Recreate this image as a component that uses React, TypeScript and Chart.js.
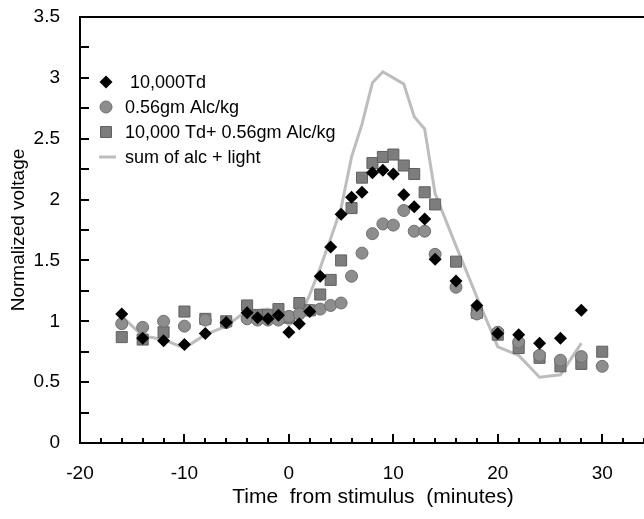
import React, { useEffect, useRef } from 'react';
import { Chart, registerables } from 'chart.js';

Chart.register(...registerables);

const FONT = '"Liberation Sans", Arial, Helvetica, sans-serif';

// Time from stimulus (minutes)
const times = [-16, -14, -12, -10, -8, -6, -4, -3, -2, -1, 0, 1, 2, 3, 4, 5, 6, 7, 8, 9, 10, 11, 12, 13, 14, 16, 18, 20, 22, 24, 26, 28, 30];

// 10,000Td (light)
const lightValues = [1.06, 0.86, 0.84, 0.81, 0.90, 0.99, 1.07, 1.03, 1.02, 1.05, 0.91, 0.98, 1.08, 1.37, 1.61, 1.88, 2.02, 2.06, 2.22, 2.24, 2.21, 2.04, 1.94, 1.84, 1.51, 1.33, 1.13, 0.90, 0.89, 0.82, 0.86, 1.09, null];

// 0.56gm Alc/kg
const alcValues = [0.98, 0.95, 1.00, 0.96, 1.01, 0.99, 1.02, 1.01, 1.01, 1.01, 1.04, 1.06, 1.09, 1.10, 1.13, 1.15, 1.37, 1.56, 1.72, 1.80, 1.79, 1.91, 1.74, 1.74, 1.55, 1.28, 1.06, 0.91, 0.83, 0.72, 0.68, 0.71, 0.63];

// 10,000 Td+ 0.56gm Alc/kg
const bothValues = [0.87, 0.85, 0.91, 1.08, 1.02, 1.00, 1.13, 1.05, 1.05, 1.10, 1.03, 1.15, 1.09, 1.22, 1.34, 1.50, 1.93, 2.18, 2.30, 2.35, 2.37, 2.28, 2.21, 2.06, 1.96, 1.49, 1.07, 0.89, 0.78, 0.70, 0.63, 0.65, 0.75];

// sum of alc + light
const sumValues = [1.04, 0.88, 0.85, 0.78, 0.89, 0.96, 1.09, 1.09, 1.10, 1.07, 0.97, 1.03, 1.22, 1.44, 1.68, 1.93, 2.35, 2.62, 2.96, 3.05, 3.00, 2.95, 2.68, 2.58, 2.05, 1.62, 1.20, 0.79, 0.72, 0.54, 0.56, 0.82, null];

const legendLabels = [' 10,000Td', '0.56gm Alc/kg', '10,000 Td+ 0.56gm Alc/kg', 'sum of alc + light'];

const xTitle = 'Time  from stimulus  (minutes)';
const yTitle = 'Normalized voltage';

const X_MIN = -20;
const X_MAX = 34;
const Y_MIN = 0;
const Y_MAX = 3.5;

const CIRCLE_FILL = '#8d8d8d';
const CIRCLE_EDGE = '#6f6f6f';
const SQUARE_FILL = '#7d7d7d';
const SQUARE_EDGE = '#606060';
const LINE_COLOR = '#bdbdbd';

function toPoints(values: (number | null)[]) {
  const pts: { x: number; y: number }[] = [];
  values.forEach((v, i) => {
    if (v !== null && v !== undefined) pts.push({ x: times[i], y: v });
  });
  return pts;
}

const framePlugin = {
  id: 'frameAndTicks',
  afterDraw(chart: any) {
    const { ctx, chartArea, scales } = chart;
    const xs = scales.x;
    const ys = scales.y;
    const left = chartArea.left;
    const right = chartArea.right;
    const top = chartArea.top;
    const bottom = chartArea.bottom;
    ctx.save();
    ctx.strokeStyle = '#000';
    ctx.lineWidth = 2;
    ctx.beginPath();
    ctx.moveTo(right + 2, top);
    ctx.lineTo(left, top);
    ctx.lineTo(left, bottom);
    ctx.lineTo(right + 2, bottom);
    ctx.stroke();
    for (let v = Y_MIN; v <= Y_MAX + 1e-9; v += 0.25) {
      const py = Math.round(ys.getPixelForValue(v));
      ctx.beginPath();
      ctx.moveTo(left, py);
      ctx.lineTo(left + 9, py);
      ctx.stroke();
    }
    for (let v = X_MIN; v <= X_MAX + 1e-9; v += 2) {
      const px = Math.round(xs.getPixelForValue(v));
      const len = Math.abs(v % 10) < 1e-9 ? 9 : 5;
      ctx.beginPath();
      ctx.moveTo(px, bottom);
      ctx.lineTo(px, bottom - len);
      ctx.stroke();
    }
    ctx.fillStyle = '#000';
    ctx.font = `21px ${FONT}`;
    ctx.textAlign = 'center';
    ctx.textBaseline = 'middle';
    ctx.fillText(xTitle, 373, 497);
    ctx.restore();
  },
};

const legendPlugin = {
  id: 'innerLegend',
  afterDraw(chart: any) {
    const { ctx } = chart;
    const mx = 106;
    const tx = 125;
    const rows = [82, 107, 132, 157];
    ctx.save();
    ctx.fillStyle = '#000';
    ctx.beginPath();
    ctx.moveTo(mx, rows[0] - 6.5);
    ctx.lineTo(mx + 6.5, rows[0]);
    ctx.lineTo(mx, rows[0] + 6.5);
    ctx.lineTo(mx - 6.5, rows[0]);
    ctx.closePath();
    ctx.fill();
    ctx.fillStyle = CIRCLE_FILL;
    ctx.strokeStyle = CIRCLE_EDGE;
    ctx.lineWidth = 1;
    ctx.beginPath();
    ctx.arc(mx, rows[1], 6, 0, Math.PI * 2);
    ctx.fill();
    ctx.stroke();
    ctx.fillStyle = SQUARE_FILL;
    ctx.strokeStyle = SQUARE_EDGE;
    ctx.beginPath();
    ctx.rect(mx - 5.5, rows[2] - 5.5, 11, 11);
    ctx.fill();
    ctx.stroke();
    ctx.strokeStyle = LINE_COLOR;
    ctx.lineWidth = 3;
    ctx.beginPath();
    ctx.moveTo(99, rows[3]);
    ctx.lineTo(116, rows[3]);
    ctx.stroke();
    ctx.fillStyle = '#000';
    ctx.font = `18px ${FONT}`;
    ctx.textAlign = 'left';
    ctx.textBaseline = 'middle';
    legendLabels.forEach((t, i) => ctx.fillText(t, tx, rows[i] + 1));
    ctx.restore();
  },
};

export default function App() {
  const canvasRef = useRef<HTMLCanvasElement | null>(null);

  useEffect(() => {
    const canvas = canvasRef.current;
    if (!canvas) return;
    const chart = new Chart(canvas, {
      type: 'scatter',
      data: {
        datasets: [
          {
            label: legendLabels[0],
            data: toPoints(lightValues),
            pointStyle: 'rectRot',
            pointRadius: 6.5,
            backgroundColor: '#000',
            borderColor: '#000',
            borderWidth: 0,
            showLine: false,
            clip: false,
          },
          {
            label: legendLabels[1],
            data: toPoints(alcValues),
            pointStyle: 'circle',
            pointRadius: 6,
            backgroundColor: CIRCLE_FILL,
            borderColor: CIRCLE_EDGE,
            borderWidth: 1,
            showLine: false,
            clip: false,
          },
          {
            label: legendLabels[2],
            data: toPoints(bothValues),
            pointStyle: 'rect',
            pointRadius: 7.8,
            backgroundColor: SQUARE_FILL,
            borderColor: SQUARE_EDGE,
            borderWidth: 1,
            showLine: false,
            clip: false,
          },
          {
            label: legendLabels[3],
            data: toPoints(sumValues),
            showLine: true,
            pointRadius: 0,
            borderColor: LINE_COLOR,
            backgroundColor: LINE_COLOR,
            borderWidth: 3,
            tension: 0,
            fill: false,
          },
        ],
      },
      options: {
        responsive: false,
        animation: false,
        events: [],
        layout: { autoPadding: false, padding: { top: 17, left: 0, right: 0, bottom: 0 } },
        plugins: {
          legend: { display: false },
          tooltip: { enabled: false },
        },
        scales: {
          x: {
            type: 'linear',
            min: X_MIN,
            max: X_MAX,
            grid: {
              display: true,
              drawOnChartArea: false,
              drawTicks: true,
              tickLength: 19,
              color: 'rgba(0,0,0,0)',
            },
            border: { display: false },
            ticks: {
              stepSize: 2,
              autoSkip: false,
              maxRotation: 0,
              minRotation: 0,
              padding: 0,
              color: '#000',
              font: { size: 19, family: FONT },
              callback: (v: any) => (Math.abs(Number(v) % 10) < 1e-9 ? String(Number(v)) : ''),
            },
            afterFit: (s: any) => {
              s.height = 76;
            },
          },
          y: {
            type: 'linear',
            min: Y_MIN,
            max: Y_MAX,
            grid: {
              display: true,
              drawOnChartArea: false,
              drawTicks: true,
              tickLength: 20,
              color: 'rgba(0,0,0,0)',
            },
            border: { display: false },
            ticks: {
              stepSize: 0.5,
              padding: 0,
              color: '#000',
              font: { size: 19, family: FONT },
              callback: (v: any) => String(Number(v)),
            },
            title: {
              display: true,
              text: yTitle,
              color: '#000',
              font: { size: 19, family: FONT },
              padding: { top: 7, bottom: 0 },
            },
            afterFit: (s: any) => {
              s.width = 80;
            },
          },
        },
      },
      plugins: [framePlugin, legendPlugin],
    });
    return () => chart.destroy();
  }, []);

  return (
    <div style={{ position: 'fixed', left: 0, top: 0, width: 644, height: 519, background: '#fff' }}>
      <canvas ref={canvasRef} width={644} height={519} style={{ display: 'block' }} />
    </div>
  );
}
